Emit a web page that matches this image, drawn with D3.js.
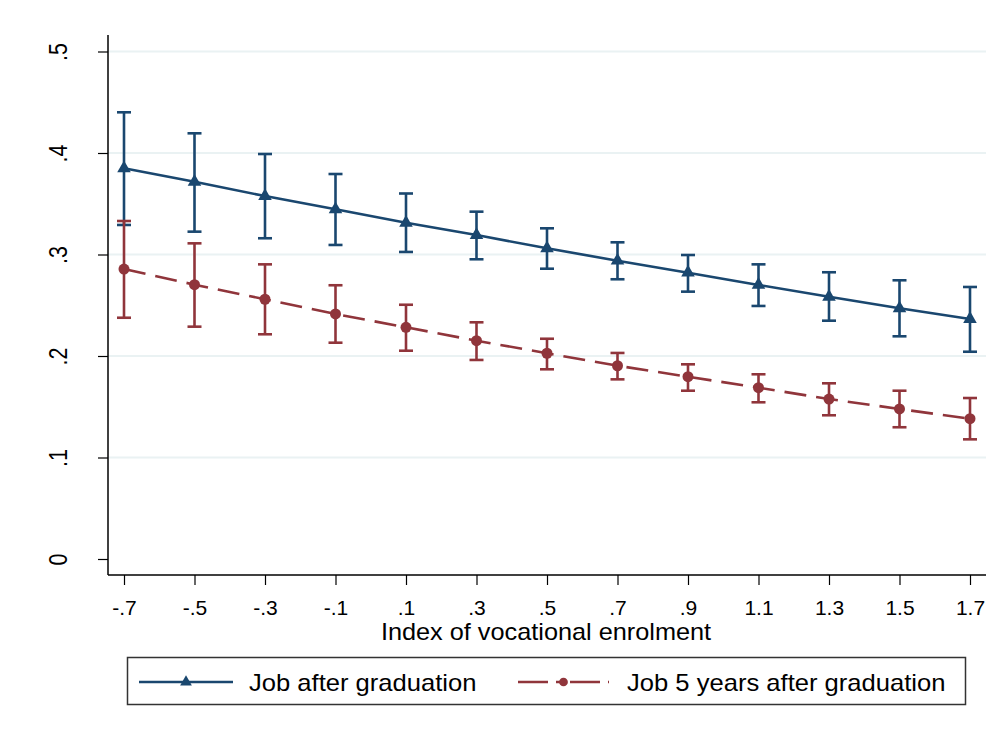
<!DOCTYPE html>
<html>
<head>
<meta charset="utf-8">
<script src="https://cdn.jsdelivr.net/npm/d3@7"></script>
<style>
  html, body { margin: 0; padding: 0; background: #ffffff; }
  svg { display: block; font-family: "Liberation Sans", Arial, Helvetica, sans-serif; }
</style>
</head>
<body>
<svg id="chart" width="997" height="731"></svg>
<script>
// Index of vocational enrolment (x positions)
const enrolment = [-0.7, -0.5, -0.3, -0.1, 0.1, 0.3, 0.5, 0.7, 0.9, 1.1, 1.3, 1.5, 1.7];

// Job after graduation: estimate with 95% confidence bounds
const jobAfter      = [0.385, 0.3717, 0.3576, 0.3445, 0.3313, 0.3192, 0.3061, 0.2939, 0.2821, 0.2700, 0.2584, 0.2470, 0.2365];
const jobAfterHigh  = [0.4401, 0.4194, 0.3990, 0.3793, 0.3601, 0.3422, 0.3258, 0.3120, 0.2995, 0.2903, 0.2825, 0.2746, 0.2680];
const jobAfterLow   = [0.3291, 0.3225, 0.3160, 0.3094, 0.3025, 0.2953, 0.2860, 0.2756, 0.2634, 0.2493, 0.2348, 0.2194, 0.2042];

// Job 5 years after graduation: estimate with 95% confidence bounds
const job5Years     = [0.2857, 0.2703, 0.2559, 0.2414, 0.2283, 0.2151, 0.2027, 0.1904, 0.1796, 0.1688, 0.1576, 0.1478, 0.1382];
const job5YearsHigh = [0.3330, 0.3110, 0.2903, 0.2697, 0.2505, 0.2332, 0.2170, 0.2030, 0.1918, 0.1820, 0.1731, 0.1658, 0.1586];
const job5YearsLow  = [0.2377, 0.2289, 0.2214, 0.2131, 0.2052, 0.1961, 0.1869, 0.1770, 0.1658, 0.1544, 0.1416, 0.1298, 0.1179];

const yTicks = [0, 0.1, 0.2, 0.3, 0.4, 0.5];
const xTitle = "Index of vocational enrolment";
const seriesNames = ["Job after graduation", "Job 5 years after graduation"];

const BLUE = "#1a476f";
const RED = "#90353b";
const GRID = "#eaf2f3";
const FONT = '"Liberation Sans", Arial, Helvetica, sans-serif';

const svg = d3.select("#chart");

// Plot region bounds
const plotLeft = 108, plotRight = 986, plotTop = 35, plotBottom = 575;

const x = d3.scaleLinear().domain([-0.7, 1.7]).range([124, 970]);
const y = d3.scaleLinear().domain([0, 0.5]).range([559, 51.5]);

// Number labels without a leading zero, hyphen for negatives
const fmt = d => {
  if (Math.abs(d) < 1e-9) return "0";
  const s = Math.abs(d).toFixed(1).replace(/^0\./, ".");
  return (d < 0 ? "-" : "") + s;
};

// Horizontal grid lines (not at zero)
svg.append("g").selectAll("line")
  .data(yTicks.filter(d => d > 0))
  .join("line")
  .attr("x1", plotLeft).attr("x2", plotRight)
  .attr("y1", d => y(d)).attr("y2", d => y(d))
  .attr("stroke", GRID).attr("stroke-width", 2);

// Y axis
const yAxis = svg.append("g")
  .attr("transform", `translate(${plotLeft},0)`)
  .call(d3.axisLeft(y).tickValues(yTicks).tickFormat(fmt).tickSize(10).tickPadding(0));
yAxis.attr("font-family", FONT);
yAxis.select(".domain").remove();
yAxis.selectAll(".tick line").attr("stroke", "#000").attr("stroke-width", 1.2);
yAxis.selectAll(".tick text")
  .attr("x", null).attr("dy", null)
  .attr("transform", "translate(-41,0) rotate(-90) scale(1,1.2)")
  .attr("text-anchor", "middle")
  .attr("font-size", 21.5)
  .attr("fill", "#000");

// X axis
const xAxis = svg.append("g")
  .attr("transform", `translate(0,${plotBottom})`)
  .call(d3.axisBottom(x).tickValues(enrolment).tickFormat(fmt).tickSize(10).tickPadding(6));
xAxis.attr("font-family", FONT);
xAxis.select(".domain").remove();
xAxis.selectAll(".tick line").attr("stroke", "#000").attr("stroke-width", 1.2);
xAxis.selectAll(".tick text")
  .attr("y", 40).attr("dy", null)
  .attr("font-size", 21)
  .attr("fill", "#000");

// Axis frame lines
svg.append("line").attr("x1", plotLeft).attr("x2", plotLeft).attr("y1", plotTop).attr("y2", plotBottom)
  .attr("stroke", "#000").attr("stroke-width", 1.5);
svg.append("line").attr("x1", plotLeft).attr("x2", plotRight).attr("y1", plotBottom).attr("y2", plotBottom)
  .attr("stroke", "#000").attr("stroke-width", 1.5);

// X axis title
svg.append("text")
  .attr("transform", `translate(${(plotLeft + plotRight) / 2 - 1},640) scale(1.1,1)`)
  .attr("text-anchor", "middle")
  .attr("font-size", 23)
  .attr("fill", "#000")
  .text(xTitle);

const series = [
  { est: jobAfter, hi: jobAfterHigh, lo: jobAfterLow, color: BLUE, dash: null, marker: "triangle" },
  { est: job5Years, hi: job5YearsHigh, lo: job5YearsLow, color: RED, dash: "22,10", marker: "circle" }
];

const capHalf = 7;

series.forEach(s => {
  const rows = enrolment.map((v, i) => ({ x: v, est: s.est[i], hi: s.hi[i], lo: s.lo[i] }));
  const g = svg.append("g");

  // connecting line
  g.append("path")
    .datum(rows)
    .attr("fill", "none")
    .attr("stroke", s.color)
    .attr("stroke-width", 2.6)
    .attr("stroke-dasharray", s.dash)
    .attr("d", d3.line().x(d => x(d.x)).y(d => y(d.est)));

  // confidence interval bars with caps
  const ci = g.append("g").attr("stroke", s.color).attr("stroke-width", 2.6).attr("fill", "none");
  ci.selectAll("line.v").data(rows).join("line").attr("class", "v")
    .attr("x1", d => x(d.x)).attr("x2", d => x(d.x))
    .attr("y1", d => y(d.lo)).attr("y2", d => y(d.hi));
  ci.selectAll("line.hi").data(rows).join("line").attr("class", "hi")
    .attr("x1", d => x(d.x) - capHalf).attr("x2", d => x(d.x) + capHalf)
    .attr("y1", d => y(d.hi)).attr("y2", d => y(d.hi));
  ci.selectAll("line.lo").data(rows).join("line").attr("class", "lo")
    .attr("x1", d => x(d.x) - capHalf).attr("x2", d => x(d.x) + capHalf)
    .attr("y1", d => y(d.lo)).attr("y2", d => y(d.lo));

  // point markers
  const sym = s.marker === "triangle"
    ? d3.symbol().type(d3.symbolTriangle).size(80)
    : d3.symbol().type(d3.symbolCircle).size(95);
  g.selectAll("path.m").data(rows).join("path").attr("class", "m")
    .attr("transform", d => `translate(${x(d.x)},${y(d.est)})`)
    .attr("d", sym())
    .attr("fill", s.color);
});

// Legend
const legend = svg.append("g");
legend.append("rect")
  .attr("x", 127.5).attr("y", 657.5).attr("width", 838).attr("height", 47)
  .attr("fill", "#fff").attr("stroke", "#333").attr("stroke-width", 1.5);

const legendItems = [
  { name: seriesNames[0], color: BLUE, dash: null, marker: "triangle", x0: 139, x1: 233, tx: 249 },
  { name: seriesNames[1], color: RED, dash: "30,8,6,8", marker: "circle", x0: 518, x1: 609, tx: 627 }
];
const ly = 682;
legendItems.forEach(it => {
  legend.append("line")
    .attr("x1", it.x0).attr("x2", it.x1).attr("y1", ly).attr("y2", ly)
    .attr("stroke", it.color).attr("stroke-width", 2.6)
    .attr("stroke-dasharray", it.dash);
  const sym = it.marker === "triangle"
    ? d3.symbol().type(d3.symbolTriangle).size(60)
    : d3.symbol().type(d3.symbolCircle).size(60);
  legend.append("path")
    .attr("transform", `translate(${(it.x0 + it.x1) / 2},${ly})`)
    .attr("d", sym())
    .attr("fill", it.color);
  legend.append("text")
    .attr("transform", `translate(${it.tx},${ly + 9}) scale(1.066,1)`)
    .attr("font-size", 24)
    .attr("fill", "#000")
    .text(it.name);
});
</script>
</body>
</html>
